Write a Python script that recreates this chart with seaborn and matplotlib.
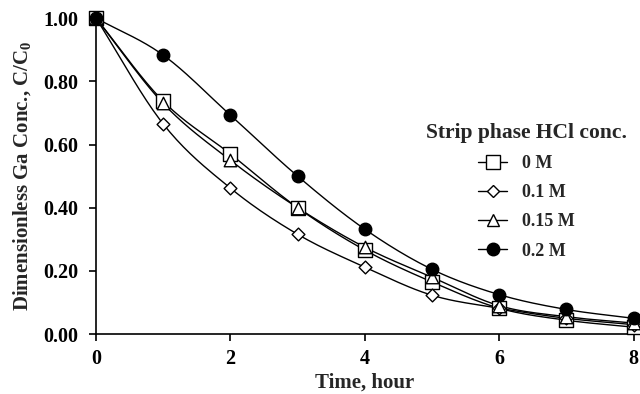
import numpy as np
import pandas as pd
import matplotlib
matplotlib.use('Agg')
import matplotlib.pyplot as plt
from matplotlib.lines import Line2D
import seaborn as sns

# ─── data ───────────────────────────────────────────────────────────────────
time_hr = [0, 1, 2, 3, 4, 5, 6, 7, 8]
series_names = ['0 M', '0.1 M', '0.15 M', '0.2 M']
c_0M   = [1.00, 0.737, 0.570, 0.400, 0.266, 0.165, 0.082, 0.044, 0.022]
c_01M  = [1.00, 0.665, 0.462, 0.316, 0.212, 0.123, 0.082, 0.050, 0.030]
c_015M = [1.00, 0.730, 0.550, 0.400, 0.275, 0.180, 0.090, 0.055, 0.035]
c_02M  = [1.00, 0.883, 0.693, 0.500, 0.332, 0.205, 0.125, 0.078, 0.050]
x_ticks = [0, 2, 4, 6, 8]
y_ticks = [0.0, 0.2, 0.4, 0.6, 0.8, 1.0]

df = pd.DataFrame({'time': time_hr * 4,
                   'conc': c_0M + c_01M + c_015M + c_02M,
                   'series': np.repeat(series_names, len(time_hr))})

# marker style per series: (marker, size, facecolor)
STYLE = {'0 M':    ('s', 9.5, 'white'),
         '0.1 M':  ('D', 6.5, 'white'),
         '0.15 M': ('^', 9.0, 'white'),
         '0.2 M':  ('o', 9.0, 'black')}


def smooth(x, y, n=20):
    # Catmull-Rom curve through the points (like a spreadsheet "smoothed line")
    x = np.asarray(x, float); y = np.asarray(y, float)
    px = np.concatenate([[2*x[0]-x[1]], x, [2*x[-1]-x[-2]]])
    py = np.concatenate([[2*y[0]-y[1]], y, [2*y[-1]-y[-2]]])
    t = np.linspace(0, 1, n, endpoint=False)
    xs, ys = [], []
    for i in range(1, len(px)-2):
        for p, out in ((px, xs), (py, ys)):
            p0, p1, p2, p3 = p[i-1], p[i], p[i+1], p[i+2]
            out.append(0.5*((2*p1) + (-p0+p2)*t + (2*p0-5*p1+4*p2-p3)*t**2
                            + (-p0+3*p1-3*p2+p3)*t**3))
    xs.append([x[-1]]); ys.append([y[-1]])
    return np.concatenate(xs), np.concatenate(ys)


sns.set_style('ticks')
plt.rcParams['font.family'] = ['Liberation Serif', 'DejaVu Serif']
plt.rcParams['font.weight'] = 'bold'
plt.rcParams['mathtext.fontset'] = 'custom'
plt.rcParams['mathtext.rm'] = 'Liberation Serif:bold'
plt.rcParams['mathtext.it'] = 'Liberation Serif:bold'

fig = plt.figure(figsize=(6.4, 3.94), dpi=100)
ax = fig.add_axes([0.15, 0.152, 0.84, 0.802])

handles = []
for name in series_names:
    sub = df[df['series'] == name]
    xs, ys = smooth(sub['time'], sub['conc'])
    ax.plot(xs, ys, color='black', lw=1.0, clip_on=False, zorder=2)
    mk, ms, fc = STYLE[name]
    sns.scatterplot(x=sub['time'], y=sub['conc'], ax=ax, marker=mk, s=ms**2,
                    facecolor=fc, edgecolor='black', linewidth=1.0,
                    clip_on=False, zorder=3, legend=False)
    handles.append(Line2D([], [], color='black', lw=1.0, marker=mk, ms=ms,
                          mfc=fc, mec='black', mew=1.0, label=name))

ax.set_xlim(0, 8)
ax.set_ylim(0, 1.0)
ax.set_xticks(x_ticks)
ax.set_yticks(y_ticks)
ax.set_yticklabels([f'{v:.2f}' for v in y_ticks])
ax.tick_params(axis='both', labelsize=14.5, direction='out', length=5,
               width=1.2, colors='black', pad=8)
ax.tick_params(axis='x', pad=6)
for s in ['left', 'bottom']:
    ax.spines[s].set_linewidth(1.2)
    ax.spines[s].set_color('black')
ax.spines[['top', 'right']].set_visible(False)

ax.set_xlabel('Time, hour', fontsize=15, fontweight='bold', labelpad=2)
ax.set_ylabel('Dimensionless Ga Conc., C/C$_0$', fontsize=15,
              fontweight='bold', labelpad=7)

leg = ax.legend(handles=handles, title='Strip phase HCl conc.',
                loc='upper left', bbox_to_anchor=(0.64, 0.73),
                bbox_transform=fig.transFigure, frameon=False,
                fontsize=13, title_fontsize=15.5, handlelength=1.6,
                handletextpad=0.8, labelspacing=0.68)
leg.get_title().set_fontweight('bold')

fig.savefig('out.png', dpi=100, facecolor='white')
